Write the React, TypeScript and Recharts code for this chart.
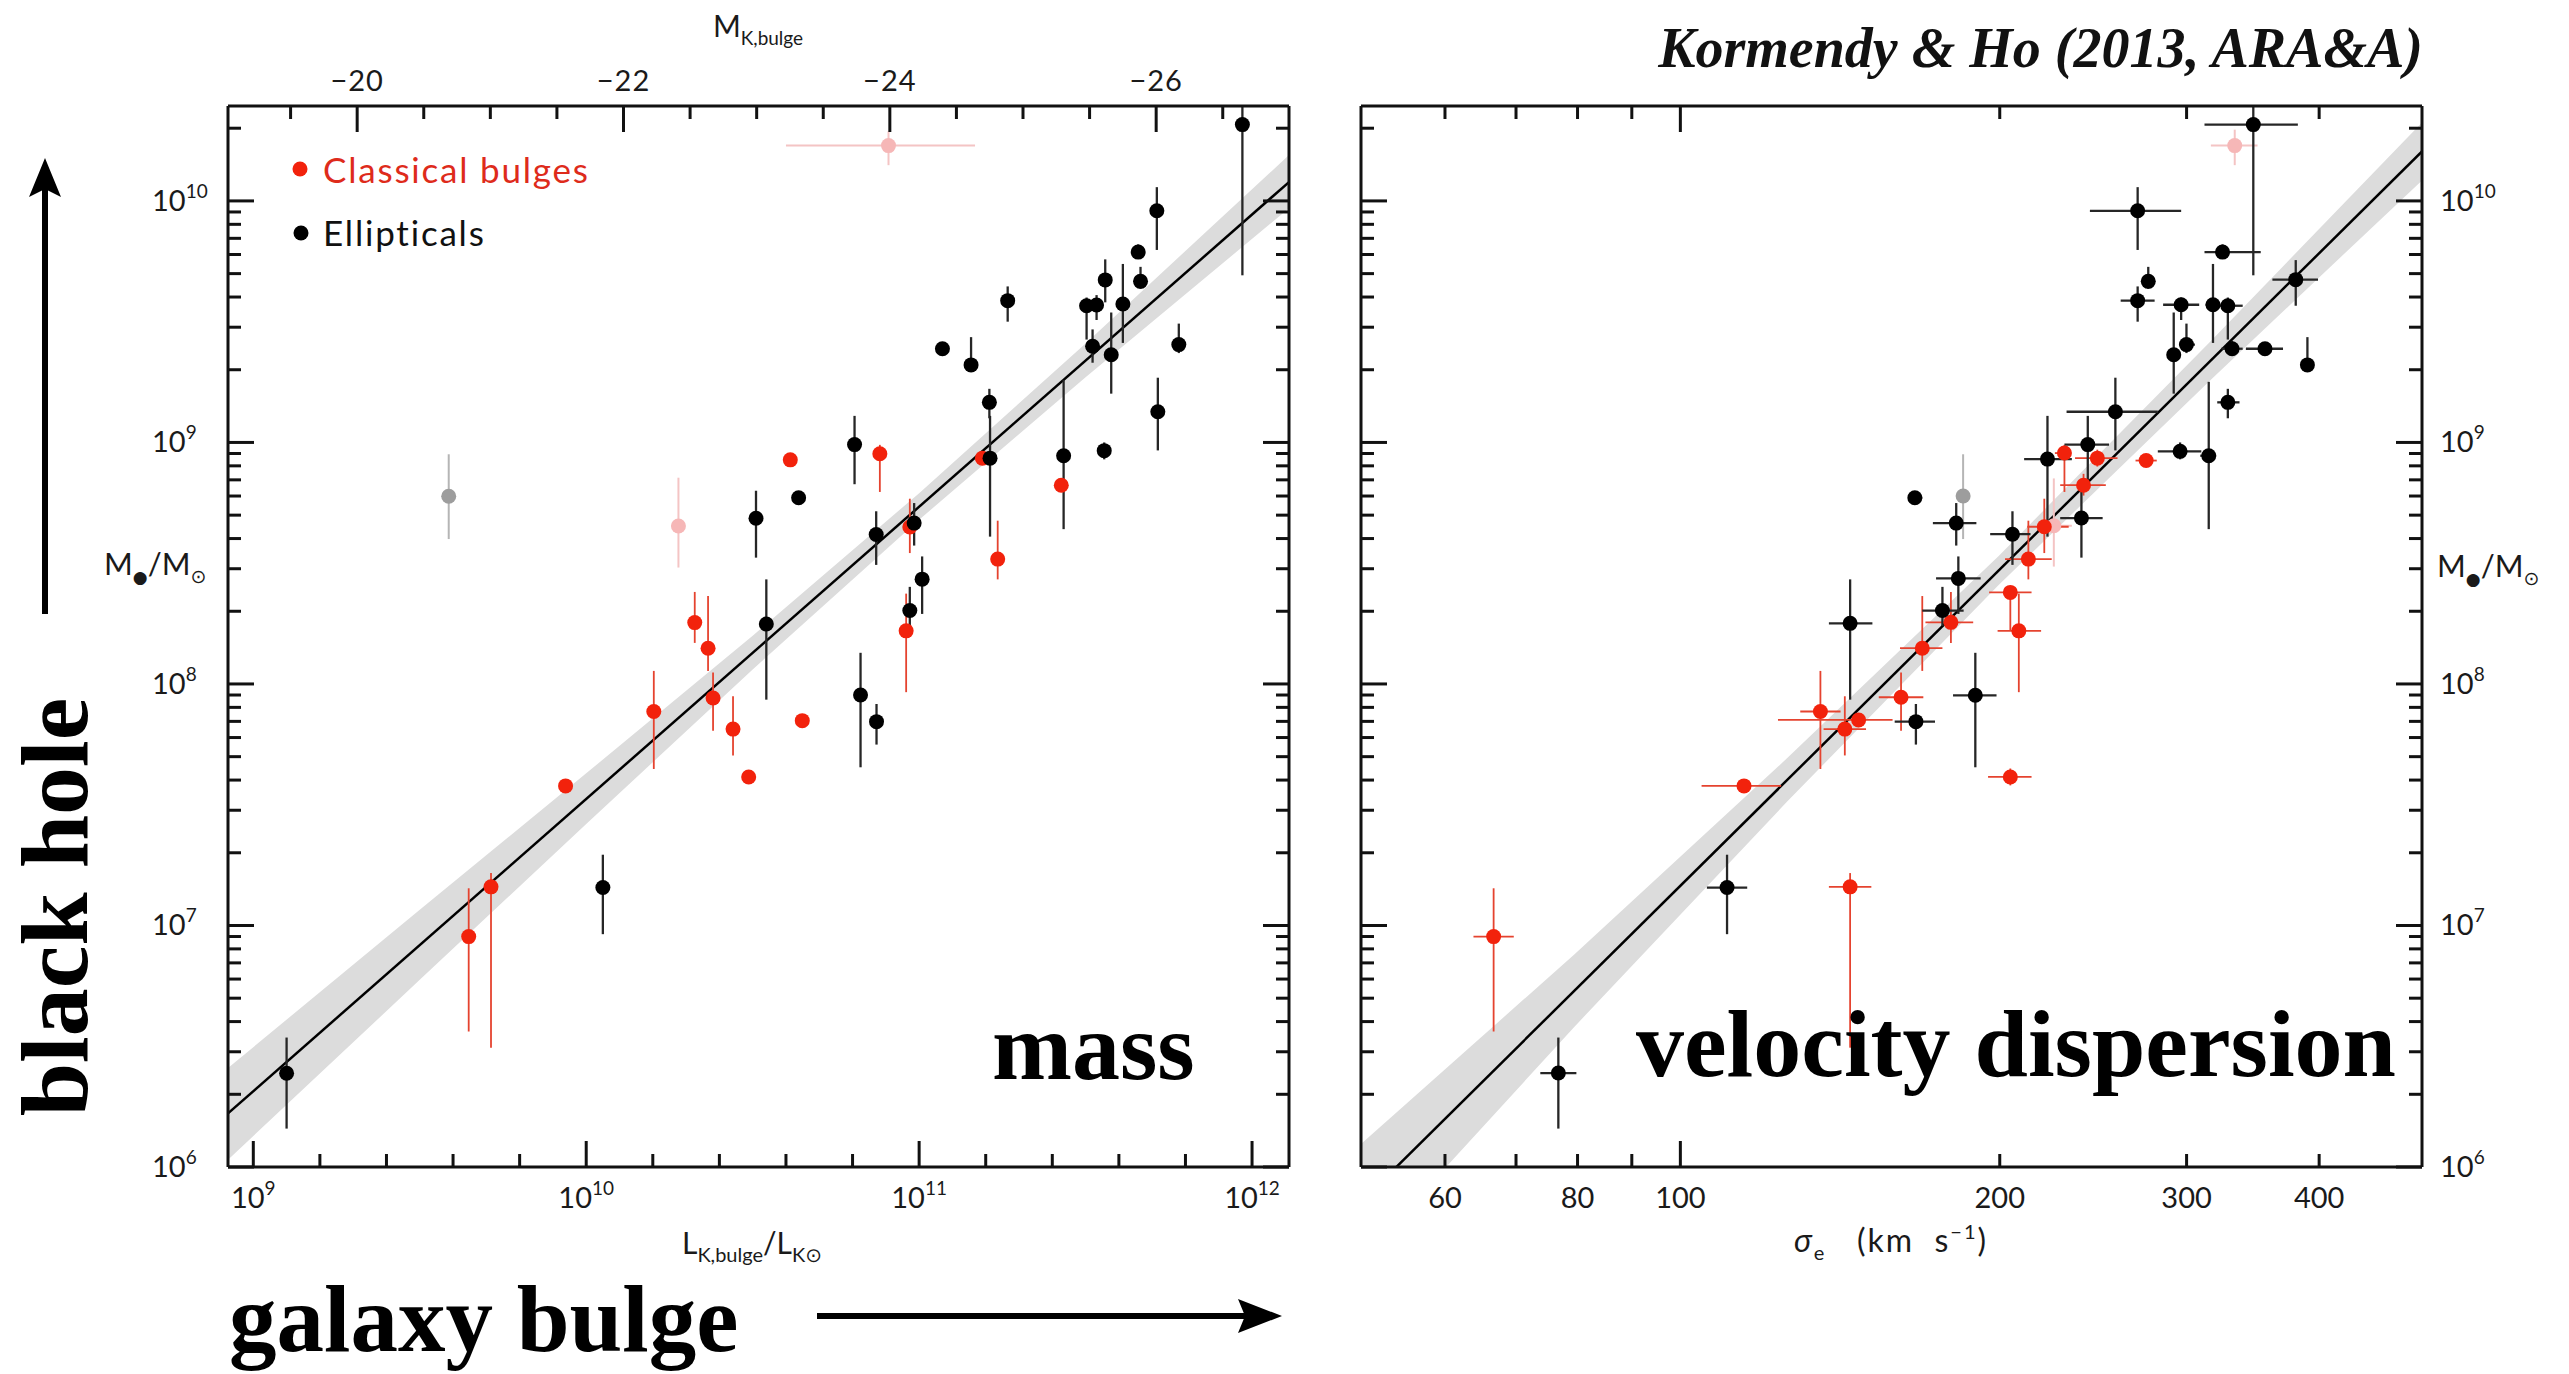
import React from "react";
import { ComposedChart, Scatter, Line, Area, XAxis, YAxis, ErrorBar } from "recharts";

// ---- data (all values in log10) ----
// mass panel rows: [log L, log M, log M low, log M high, (log L low, log L high)]
const ellipticalsMass = [
  [9.1, 6.388, 6.159, 6.536], [10.05, 7.157, 6.964, 7.293], [10.824, 7.954, 7.655, 8.129],
  [10.872, 7.844, 7.749, 7.917], [11.971, 10.316, 9.692, 10.39], [11.714, 9.959, 9.797, 10.057],
  [11.658, 9.788, 9.76, 9.82], [11.665, 9.667, 9.636, 9.727], [11.559, 9.673, 9.58, 9.758],
  [11.503, 9.566, 9.426, 9.6], [11.533, 9.569, 9.507, 9.61], [11.612, 9.573, 9.412, 9.739],
  [11.521, 9.398, 9.33, 9.468], [11.577, 9.363, 9.202, 9.538], [11.78, 9.405, 9.37, 9.492],
  [11.717, 9.127, 8.967, 9.268], [11.266, 9.587, 9.5, 9.646], [11.07, 9.388, 9.36, 9.41],
  [11.156, 9.321, 9.3, 9.436], [11.211, 9.166, 9.1, 9.222], [11.213, 8.935, 8.61, 9.11],
  [11.434, 8.945, 8.641, 9.258], [11.556, 8.966, 8.93, 9.0], [10.806, 8.991, 8.827, 9.11],
  [10.638, 8.771, 8.75, 8.79], [10.51, 8.686, 8.523, 8.8], [10.871, 8.619, 8.493, 8.715],
  [10.985, 8.666, 8.573, 8.749], [11.009, 8.434, 8.29, 8.528], [10.972, 8.304, 8.24, 8.402],
  [10.541, 8.248, 7.935, 8.433],
];
const bulgesMass = [
  [9.647, 6.954, 6.561, 7.154], [9.714, 7.16, 6.494, 7.217], [9.938, 7.578, 7.56, 7.6],
  [10.203, 7.886, 7.648, 8.054], [10.381, 7.942, 7.806, 8.047], [10.366, 8.148, 8.054, 8.364],
  [10.326, 8.254, 8.17, 8.381], [10.441, 7.813, 7.704, 7.949], [10.488, 7.615, 7.59, 7.64],
  [10.649, 7.848, 7.83, 7.87], [11.19, 8.935, 8.91, 8.96], [11.427, 8.823, 8.8, 8.85],
  [10.882, 8.953, 8.795, 8.99], [10.613, 8.928, 8.91, 8.95], [10.972, 8.65, 8.542, 8.767],
  [11.236, 8.517, 8.433, 8.676], [10.961, 8.22, 7.966, 8.374],
];
const pinkMass = [[10.277, 8.654, 8.482, 8.854], [10.908, 10.229, 10.148, 10.288, 10.6, 11.168]];
const grayMass = [[9.587, 8.777, 8.6, 8.951]];

// sigma panel rows: [log sigma, log M, log M low, log M high, log sigma low, log sigma high]
const ellipticalsSigma = [
  [2.54, 10.316, 9.692, 10.39, 2.494, 2.582], [2.431, 9.959, 9.797, 10.057, 2.386, 2.472],
  [2.511, 9.788, 9.76, 9.82, 2.494, 2.547], [2.441, 9.667, 9.636, 9.727, 2.435, 2.447],
  [2.431, 9.587, 9.5, 9.646, 2.415, 2.447], [2.472, 9.57, 9.507, 9.6, 2.455, 2.489],
  [2.502, 9.57, 9.412, 9.739, 2.495, 2.509], [2.516, 9.566, 9.426, 9.6, 2.505, 2.53],
  [2.52, 9.388, 9.36, 9.42, 2.51, 2.53], [2.477, 9.405, 9.37, 9.492, 2.47, 2.485],
  [2.465, 9.363, 9.202, 9.538, 2.46, 2.47], [2.58, 9.674, 9.566, 9.755, 2.558, 2.601],
  [2.551, 9.388, 9.36, 9.41, 2.533, 2.568], [2.591, 9.321, 9.3, 9.436, 2.585, 2.597],
  [2.516, 9.166, 9.1, 9.222, 2.506, 2.527], [2.41, 9.127, 8.967, 9.268, 2.364, 2.45],
  [2.471, 8.963, 8.93, 9.0, 2.45, 2.491], [2.498, 8.945, 8.641, 9.251, 2.49, 2.505],
  [2.384, 8.991, 8.827, 9.11, 2.362, 2.404], [2.346, 8.931, 8.61, 9.11, 2.324, 2.369],
  [2.378, 8.687, 8.523, 8.8, 2.358, 2.398], [2.313, 8.62, 8.493, 8.715, 2.292, 2.33],
  [2.262, 8.437, 8.29, 8.528, 2.241, 2.283], [2.247, 8.304, 8.24, 8.402, 2.228, 2.267],
  [2.221, 8.771, 8.75, 8.79, 2.215, 2.228], [2.26, 8.666, 8.573, 8.749, 2.238, 2.279],
  [2.16, 8.251, 7.935, 8.433, 2.14, 2.181], [2.044, 7.157, 6.964, 7.293, 2.025, 2.063],
  [1.885, 6.389, 6.159, 6.536, 1.868, 1.902], [2.222, 7.844, 7.749, 7.917, 2.202, 2.24],
  [2.278, 7.953, 7.655, 8.129, 2.257, 2.298],
];
const bulgesSigma = [
  [2.439, 8.925, 8.91, 8.94, 2.429, 2.449], [2.393, 8.935, 8.9, 8.97, 2.372, 2.412],
  [2.362, 8.956, 8.795, 8.99, 2.353, 2.368], [2.38, 8.823, 8.78, 8.87, 2.358, 2.401],
  [2.343, 8.651, 8.542, 8.767, 2.327, 2.366], [2.328, 8.517, 8.433, 8.676, 2.306, 2.35],
  [2.311, 8.379, 8.22, 8.4, 2.291, 2.331], [2.319, 8.22, 7.966, 8.374, 2.299, 2.34],
  [2.255, 8.255, 8.17, 8.381, 2.231, 2.276], [2.228, 8.148, 8.054, 8.364, 2.207, 2.247],
  [2.208, 7.945, 7.806, 8.047, 2.187, 2.229], [2.132, 7.886, 7.648, 8.054, 2.113, 2.151],
  [2.155, 7.813, 7.704, 7.949, 2.135, 2.175], [2.168, 7.851, 7.83, 7.87, 2.092, 2.2],
  [2.06, 7.578, 7.56, 7.6, 2.02, 2.095], [1.824, 6.954, 6.561, 7.154, 1.805, 1.843],
  [2.16, 7.16, 6.494, 7.217, 2.14, 2.18], [2.311, 7.615, 7.58, 7.65, 2.29, 2.331],
];
const pinkSigma = [[2.5225, 10.229, 10.148, 10.295, 2.5, 2.544], [2.352, 8.655, 8.486, 8.851, 2.34, 2.369]];
const graySigma = [[2.2665, 8.778, 8.6, 8.951]];

// fitted relations (line end points) and their shaded uncertainty band
const massFit = [[8.924, 6.222], [12.111, 10.078]];
const massBandX = [8.924, 9.5, 10, 10.5, 11, 11.5, 12.111];
const massBandLo = [6.03, 6.775, 7.42, 8.06, 8.68, 9.27, 9.97];
const massBandHi = [6.41, 7.065, 7.63, 8.2, 8.79, 9.41, 10.19];
const sigmaFit = [[1.699, 5.855], [2.699, 10.205]];
const sigmaBandX = [1.699, 1.9, 2.1, 2.3, 2.5, 2.699];
const sigmaBandLo = [5.615, 6.58, 7.51, 8.41, 9.26, 10.085];
const sigmaBandHi = [6.095, 6.88, 7.69, 8.53, 9.42, 10.325];

// ---- axes ----
const MASS_DOMAIN = [8.924, 12.111];
const SIGMA_DOMAIN = [1.699, 2.699];
const Y_DOMAIN = [6, 10.393];
const M_SUN_K = 3.28;
const lumTicks = [9, 9.2, 9.4, 9.6, 9.8, 10, 10.2, 10.4, 10.6, 10.8, 11, 11.2, 11.4, 11.6, 11.8, 12];
const magTicks = [-19.5, -20, -20.5, -21, -21.5, -22, -22.5, -23, -23.5, -24, -24.5, -25, -25.5, -26, -26.5];
const magMajor = [-20, -22, -24, -26];
const yDecades = [6, 7, 8, 9, 10];
const yMinorMult = [2, 3, 4, 5, 6, 7, 8, 9];
const sigmaTickValues = [60, 70, 80, 90, 100, 200, 300, 400];
const sigmaLabels = [60, 80, 100, 200, 300, 400];
const sigmaMajor = [100];

const yTicks = yDecades
  .flatMap((d) => [d, ...yMinorMult.map((k) => d + Math.log10(k))])
  .filter((v) => v <= Y_DOMAIN[1]);
const sigmaTicks = sigmaTickValues.map((s) => Math.log10(s));
// absolute magnitude ticks expressed on the log L scale of the bottom axis
const magToLum = (m: number) => (M_SUN_K - m) / 2.5;
const magTickPos = magTicks.map(magToLum);

const RED = "#f2220c";
const FONT = "Lato, 'DejaVu Sans', sans-serif";
const SERIF = "'Liberation Serif', 'DejaVu Serif', serif";
const near = (a: number, b: number) => Math.abs(a - b) < 1e-6;
const isInt = (v: number) => near(v, Math.round(v));

const toPoints = (rows: number[][]) =>
  rows.map((r) => ({
    x: r[0],
    y: r[1],
    ey: [r[1] - r[2], r[3] - r[1]],
    ex: r.length > 4 ? [r[0] - r[4], r[5] - r[0]] : [0, 0],
  }));

const bandData = (xs: number[], lo: number[], hi: number[], fit: number[][]) =>
  xs.map((x, i) => ({
    x,
    band: [lo[i], hi[i]],
    fit: near(x, fit[0][0]) ? fit[0][1] : near(x, fit[1][0]) ? fit[1][1] : undefined,
  }));

const pow10 = (e: number) => (
  <>
    10
    <tspan dy={-13} fontSize={19}>
      {e}
    </tspan>
  </>
);

type Side = "bottom" | "top" | "left" | "right";
const makeTick =
  (side: Side, isMajor: (v: number) => boolean, label?: (v: number) => React.ReactNode) =>
  (props: any) => {
    const { x, y, payload } = props;
    const v = payload.value as number;
    const len = isMajor(v) ? 26 : 13;
    const lab = label ? label(v) : null;
    const ln = { stroke: "#111", strokeWidth: 3 };
    const txt = { fontFamily: FONT, fontSize: 29, fill: "#1a1a1a" };
    if (side === "bottom")
      return (
        <g>
          <line x1={x} x2={x} y1={y} y2={y - len} {...ln} />
          {lab != null && <text x={x} y={y + 41} textAnchor="middle" {...txt}>{lab}</text>}
        </g>
      );
    if (side === "top")
      return (
        <g>
          <line x1={x} x2={x} y1={y} y2={y + len} {...ln} />
          {lab != null && <text x={x} y={y - 15} textAnchor="middle" {...txt} letterSpacing={1}>{lab}</text>}
        </g>
      );
    if (side === "left")
      return (
        <g>
          <line x1={x} x2={x + len} y1={y} y2={y} {...ln} />
          {lab != null && <text x={x - 76} y={y + 10} textAnchor="start" {...txt}>{lab}</text>}
        </g>
      );
    return (
      <g>
        <line x1={x} x2={x - len} y1={y} y2={y} {...ln} />
        {lab != null && <text x={x + 18} y={y + 10} textAnchor="start" {...txt}>{lab}</text>}
      </g>
    );
  };

const yLabel = (v: number) => (isInt(v) ? pow10(Math.round(v)) : null);
const frame = { stroke: "#111", strokeWidth: 3 };
const common = { tickLine: false, tickSize: 0, tickMargin: 0, interval: 0 as const, allowDataOverflow: true, axisLine: frame };

const dot = (fill: string) => (p: any) => <circle cx={p.cx} cy={p.cy} r={7.5} fill={fill} />;

const series = (rows: number[][], fill: string, err: string, w: number, key: string) => (
  <Scatter
    key={key}
    data={toPoints(rows)}
    dataKey="y"
    xAxisId="b"
    yAxisId="l"
    isAnimationActive={false}
    shape={dot(fill)}
  >
    <ErrorBar dataKey="ey" direction="y" width={0} stroke={err} strokeWidth={w} isAnimationActive={false} />
    <ErrorBar dataKey="ex" direction="x" width={0} stroke={err} strokeWidth={w} isAnimationActive={false} />
  </Scatter>
);

function MassPanel() {
  const data = bandData(massBandX, massBandLo, massBandHi, massFit);
  const magOf = (v: number) => M_SUN_K - 2.5 * v;
  const magIsMajor = (v: number) => magMajor.some((m) => near(m, magOf(v)));
  return (
    <ComposedChart width={1349} height={1300} data={data} margin={{ top: 0, right: 0, bottom: 0, left: 0 }}>
      <XAxis xAxisId="b" type="number" dataKey="x" domain={MASS_DOMAIN} ticks={lumTicks} height={133}
        tick={makeTick("bottom", isInt, (v) => (isInt(v) ? pow10(Math.round(v)) : null))} {...common} />
      <XAxis xAxisId="t" orientation="top" type="number" dataKey="x" domain={MASS_DOMAIN} ticks={magTickPos} height={106}
        tick={makeTick("top", magIsMajor, (v) =>
          magIsMajor(v) ? `\u2212${Math.abs(Math.round(magOf(v)))}` : null)} {...common} />
      <YAxis yAxisId="l" type="number" domain={Y_DOMAIN} ticks={yTicks} width={228}
        tick={makeTick("left", isInt, yLabel)} {...common} />
      <YAxis yAxisId="r" orientation="right" type="number" domain={Y_DOMAIN} ticks={yTicks} width={60}
        tick={makeTick("right", isInt)} {...common} />
      <Area xAxisId="b" yAxisId="l" type="linear" dataKey="band" stroke="none" fill="#dcdcdc" fillOpacity={1} isAnimationActive={false} />
      <Line xAxisId="t" yAxisId="r" type="linear" dataKey="fit" stroke="#000" strokeWidth={2.5} dot={false} connectNulls isAnimationActive={false} />
      {series(grayMass, "#9d9d9d", "#b5b5b5", 2, "g")}
      {series(pinkMass, "#f6b7b7", "#f4c4c4", 2, "p")}
      {series(bulgesMass, RED, "#e5432f", 1.8, "r")}
      {series(ellipticalsMass, "#000", "#262626", 2.3, "k")}
    </ComposedChart>
  );
}

function SigmaPanel() {
  const data = bandData(sigmaBandX, sigmaBandLo, sigmaBandHi, sigmaFit);
  const sigMajor = (v: number) => sigmaMajor.some((s) => near(Math.log10(s), v));
  const sigLabel = (v: number) => {
    const s = sigmaLabels.find((k) => near(Math.log10(k), v));
    return s != null ? String(s) : null;
  };
  return (
    <ComposedChart width={1248} height={1300} data={data} margin={{ top: 0, right: 0, bottom: 0, left: 0 }}>
      <XAxis xAxisId="b" type="number" dataKey="x" domain={SIGMA_DOMAIN} ticks={sigmaTicks} height={133}
        tick={makeTick("bottom", sigMajor, sigLabel)} {...common} />
      <XAxis xAxisId="t" orientation="top" type="number" dataKey="x" domain={SIGMA_DOMAIN} ticks={sigmaTicks} height={106}
        tick={makeTick("top", sigMajor)} {...common} />
      <YAxis yAxisId="l" type="number" domain={Y_DOMAIN} ticks={yTicks} width={40}
        tick={makeTick("left", isInt)} {...common} />
      <YAxis yAxisId="r" orientation="right" type="number" domain={Y_DOMAIN} ticks={yTicks} width={147}
        tick={makeTick("right", isInt, yLabel)} {...common} />
      <Area xAxisId="b" yAxisId="l" type="linear" dataKey="band" stroke="none" fill="#dcdcdc" fillOpacity={1} isAnimationActive={false} />
      <Line xAxisId="t" yAxisId="r" type="linear" dataKey="fit" stroke="#000" strokeWidth={2.5} dot={false} connectNulls isAnimationActive={false} />
      {series(graySigma, "#9d9d9d", "#b5b5b5", 2, "g")}
      {series(pinkSigma, "#f6b7b7", "#f4c4c4", 2, "p")}
      {series(bulgesSigma, RED, "#e5432f", 1.8, "r")}
      {series(ellipticalsSigma, "#000", "#262626", 2.3, "k")}
    </ComposedChart>
  );
}

const MbhLabel = ({ x, y }: { x: number; y: number }) => (
  <text x={x} y={y} fontFamily={FONT} fontSize={31} fill="#1a1a1a">
    M
    <tspan fontFamily="'DejaVu Sans'" fontSize={17} dy={8}>{"\u25CF"}</tspan>
    <tspan dy={-8}>/M</tspan>
    <tspan fontFamily="'DejaVu Sans'" fontSize={19} dy={8}>{"\u2299"}</tspan>
  </text>
);

function Overlay() {
  const big = { fontFamily: SERIF, fontWeight: 700, fontSize: 96, fill: "#000" };
  const lab = { fontFamily: FONT, fontSize: 30, fill: "#1a1a1a" };
  return (
    <svg width={2569} height={1374} style={{ position: "absolute", left: 0, top: 0, pointerEvents: "none" }}>
      <text x={2423} y={67} textAnchor="end" fontFamily={SERIF} fontStyle="italic" fontWeight={700} fontSize={56} fill="#111">
        Kormendy &amp; Ho (2013, ARA&amp;A)
      </text>

      {/* axis titles */}
      <text x={758} y={37} textAnchor="middle" {...lab}>
        M<tspan fontSize={19} dy={8}>K,bulge</tspan>
      </text>
      <text x={752} y={1254} textAnchor="middle" {...lab}>
        L<tspan fontSize={20} dy={8}>K,bulge</tspan>
        <tspan dy={-8}>/L</tspan>
        <tspan fontSize={20} dy={8}>K{"\u2299"}</tspan>
      </text>
      <text x={1891} y={1252} textAnchor="middle" {...lab} fontSize={32} letterSpacing={2} style={{ whiteSpace: "pre" }}>
        <tspan fontStyle="italic">{"\u03C3"}</tspan>
        <tspan fontSize={20} dy={8}>e</tspan>
        <tspan dy={-8}>{"   (km  s"}</tspan>
        <tspan fontSize={20} dy={-13}>{"\u22121"}</tspan>
        <tspan dy={13}>)</tspan>
      </text>
      <MbhLabel x={104} y={575} />
      <MbhLabel x={2437} y={577} />

      {/* legend */}
      <circle cx={300} cy={169} r={7.5} fill={RED} />
      <text x={323} y={183} fontFamily={FONT} fontSize={35} letterSpacing={1.8} fill="#de2b1b">Classical bulges</text>
      <circle cx={301} cy={233} r={7.5} fill="#000" />
      <text x={323} y={246} fontFamily={FONT} fontSize={35} letterSpacing={1.8} fill="#111">Ellipticals</text>

      {/* panel captions */}
      <text x={992} y={1079} {...big}>mass</text>
      <text x={1636} y={1076} {...big}>velocity dispersion</text>
      <text x={229} y={1351} {...big} fontSize={95}>galaxy bulge</text>
      <text x={87} y={907} {...big} textAnchor="middle" transform="rotate(-90 87 907)">black hole</text>

      {/* arrows */}
      <line x1={45} y1={614} x2={45} y2={185} stroke="#000" strokeWidth={6} />
      <path d="M45,158 L29,197 L45,189 L61,197 Z" fill="#000" />
      <line x1={817} y1={1316} x2={1250} y2={1316} stroke="#000" strokeWidth={6} />
      <path d="M1282,1316 L1238,1299 L1245,1316 L1238,1333 Z" fill="#000" />
    </svg>
  );
}

export default function App() {
  return (
    <div style={{ position: "absolute", left: 0, top: 0, width: 2569, height: 1374, overflow: "hidden", background: "#fff" }}>
      <div style={{ position: "absolute", left: 0, top: 0 }}>
        <MassPanel />
      </div>
      <div style={{ position: "absolute", left: 1321, top: 0 }}>
        <SigmaPanel />
      </div>
      <Overlay />
    </div>
  );
}
